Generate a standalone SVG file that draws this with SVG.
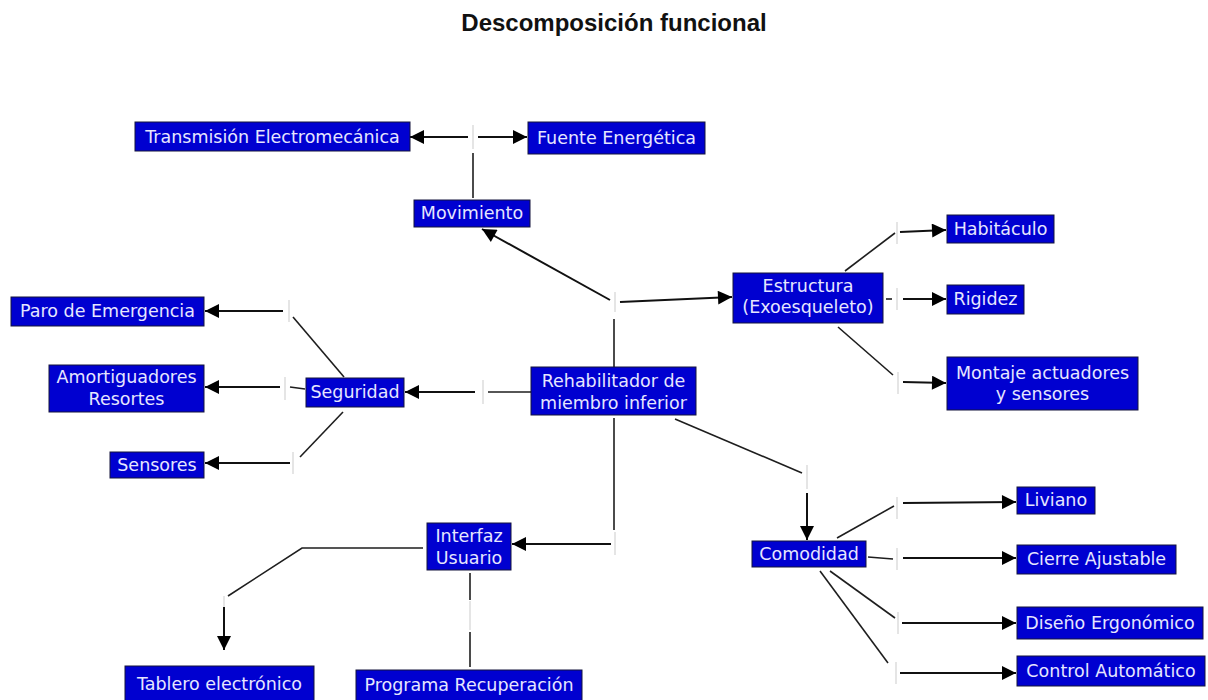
<svg xmlns="http://www.w3.org/2000/svg" width="1208" height="700" viewBox="0 0 1208 700">
<style>
.box{fill:#0000d0;stroke:#14143c;stroke-width:1}
.t{font-family:"DejaVu Sans",Verdana,sans-serif;font-size:17.5px;fill:#e6e6ff;text-anchor:middle}
.title{font-family:"Liberation Sans",Arial,sans-serif;font-size:24px;font-weight:bold;fill:#111;text-anchor:middle}
.c{stroke:#1e1e1e;stroke-width:1.6;fill:none}
.a{stroke:#111;stroke-width:2;fill:none;marker-end:url(#ah)}
.k{stroke:#dcdcdc;stroke-width:1.5;fill:none}
</style>
<defs>
<marker id="ah" viewBox="0 0 14 14" refX="14" refY="7" markerUnits="userSpaceOnUse" markerWidth="15" markerHeight="14" orient="auto">
<path d="M0,0 L14,7 L0,14 z" fill="#000"/>
</marker>
</defs>
<rect width="1208" height="700" fill="#fff"/>
<text class="title" x="614" y="31">Descomposición funcional</text>

<g id="connectors">
<line class="c" x1="473" y1="198" x2="473" y2="153"/>
<line class="k" x1="473" y1="125" x2="473" y2="149"/>
<line class="a" x1="468" y1="137" x2="410" y2="137"/>
<line class="a" x1="478" y1="137" x2="527" y2="137"/>

<line class="a" x1="610" y1="300" x2="482" y2="229"/>
<line class="k" x1="615" y1="292" x2="615" y2="312"/>
<line class="a" x1="620" y1="302" x2="732" y2="297"/>
<line class="c" x1="614" y1="319" x2="614" y2="367"/>

<line class="a" x1="475" y1="392" x2="405" y2="392"/>
<line class="k" x1="483" y1="380" x2="483" y2="404"/>
<line class="c" x1="488" y1="392" x2="531" y2="392"/>

<line class="c" x1="293" y1="317" x2="344" y2="377"/>
<line class="k" x1="289" y1="300" x2="289" y2="322"/>
<line class="a" x1="283" y1="311" x2="205" y2="311"/>
<line class="c" x1="290" y1="387" x2="305" y2="389"/>
<line class="k" x1="285" y1="377" x2="285" y2="400"/>
<line class="a" x1="280" y1="387" x2="205" y2="387"/>
<line class="c" x1="343" y1="412" x2="300" y2="457"/>
<line class="k" x1="293" y1="452" x2="293" y2="474"/>
<line class="a" x1="290" y1="463" x2="205" y2="463"/>

<line class="c" x1="845" y1="271" x2="895" y2="233"/>
<line class="k" x1="897" y1="222" x2="897" y2="244"/>
<line class="a" x1="900" y1="232" x2="946" y2="230"/>
<line class="c" x1="886" y1="299" x2="892" y2="299"/>
<line class="k" x1="897" y1="288" x2="897" y2="310"/>
<line class="a" x1="903" y1="299" x2="946" y2="299"/>
<line class="c" x1="838" y1="327" x2="893" y2="375"/>
<line class="k" x1="898" y1="372" x2="898" y2="394"/>
<line class="a" x1="903" y1="382" x2="946" y2="383"/>

<line class="c" x1="675" y1="419" x2="802" y2="473"/>
<line class="k" x1="807" y1="465" x2="807" y2="489"/>
<line class="a" x1="807" y1="493" x2="807" y2="540"/>

<line class="c" x1="614" y1="418" x2="614" y2="530"/>
<line class="k" x1="615" y1="532" x2="615" y2="555"/>
<line class="a" x1="611" y1="544" x2="512" y2="544"/>

<line class="c" x1="837" y1="538" x2="894" y2="506"/>
<line class="k" x1="897" y1="497" x2="897" y2="519"/>
<line class="a" x1="903" y1="503" x2="1016" y2="502"/>
<line class="c" x1="868" y1="557" x2="893" y2="559"/>
<line class="k" x1="897" y1="548" x2="897" y2="570"/>
<line class="a" x1="903" y1="558" x2="1016" y2="558"/>
<line class="c" x1="830" y1="571" x2="895" y2="618"/>
<line class="k" x1="898" y1="612" x2="898" y2="634"/>
<line class="a" x1="902" y1="623" x2="1016" y2="623"/>
<line class="c" x1="820" y1="571" x2="888" y2="663"/>
<line class="k" x1="896" y1="662" x2="896" y2="684"/>
<line class="a" x1="900" y1="673" x2="1016" y2="673"/>

<polyline class="c" points="423,548 302,548 228,596"/>
<line class="k" x1="224" y1="596" x2="224" y2="607"/>
<line class="a" x1="224" y1="607" x2="224" y2="650"/>
<line class="c" x1="470" y1="573" x2="470" y2="600"/>
<line class="k" x1="470" y1="601" x2="470" y2="630"/>
<line class="c" x1="470" y1="632" x2="470" y2="667"/>
</g>

<g id="n_trans"><rect class="box" x="135" y="122" width="275" height="29"/><text class="t" x="272.5" y="143">Transmisión Electromecánica</text></g>
<g id="n_fuente"><rect class="box" x="528" y="122" width="177" height="32"/><text class="t" x="616.5" y="144">Fuente Energética</text></g>
<g id="n_mov"><rect class="box" x="414" y="200" width="116" height="27"/><text class="t" x="472" y="219">Movimiento</text></g>
<g id="n_paro"><rect class="box" x="11" y="297" width="193" height="29"/><text class="t" x="107.5" y="317">Paro de Emergencia</text></g>
<g id="n_amort"><rect class="box" x="49" y="365" width="155" height="47"/><text class="t" x="126.5" y="383">Amortiguadores</text><text class="t" x="126.5" y="405">Resortes</text></g>
<g id="n_seg"><rect class="box" x="306" y="378" width="98" height="29"/><text class="t" x="355" y="398">Seguridad</text></g>
<g id="n_sens"><rect class="box" x="110" y="452" width="94" height="26"/><text class="t" x="157" y="471">Sensores</text></g>
<g id="n_rehab"><rect class="box" x="531" y="367" width="165" height="48"/><text class="t" x="613.5" y="387">Rehabilitador de</text><text class="t" x="613.5" y="409">miembro inferior</text></g>
<g id="n_estr"><rect class="box" x="733" y="273" width="150" height="50"/><text class="t" x="808" y="292">Estructura</text><text class="t" x="808" y="313">(Exoesqueleto)</text></g>
<g id="n_habit"><rect class="box" x="947" y="215" width="107" height="28"/><text class="t" x="1000.5" y="235">Habitáculo</text></g>
<g id="n_rig"><rect class="box" x="947" y="285" width="77" height="29"/><text class="t" x="985.5" y="305">Rigidez</text></g>
<g id="n_mont"><rect class="box" x="947" y="357" width="191" height="53"/><text class="t" x="1042.5" y="379">Montaje actuadores</text><text class="t" x="1042.5" y="400">y sensores</text></g>
<g id="n_comod"><rect class="box" x="752" y="541" width="114" height="26"/><text class="t" x="809" y="560">Comodidad</text></g>
<g id="n_liv"><rect class="box" x="1017" y="487" width="78" height="27"/><text class="t" x="1056" y="506">Liviano</text></g>
<g id="n_cierre"><rect class="box" x="1017" y="545" width="159" height="29"/><text class="t" x="1096.5" y="565">Cierre Ajustable</text></g>
<g id="n_diseno"><rect class="box" x="1017" y="607" width="186" height="32"/><text class="t" x="1110" y="629">Diseño Ergonómico</text></g>
<g id="n_control"><rect class="box" x="1017" y="656" width="188" height="30"/><text class="t" x="1111" y="677">Control Automático</text></g>
<g id="n_interfaz"><rect class="box" x="427" y="523" width="84" height="47"/><text class="t" x="469" y="542">Interfaz</text><text class="t" x="469" y="564">Usuario</text></g>
<g id="n_tablero"><rect class="box" x="125" y="666" width="189" height="36"/><text class="t" x="219.5" y="690">Tablero electrónico</text></g>
<g id="n_prog"><rect class="box" x="356" y="670" width="226" height="32"/><text class="t" x="469" y="691">Programa Recuperación</text></g>
</svg>
